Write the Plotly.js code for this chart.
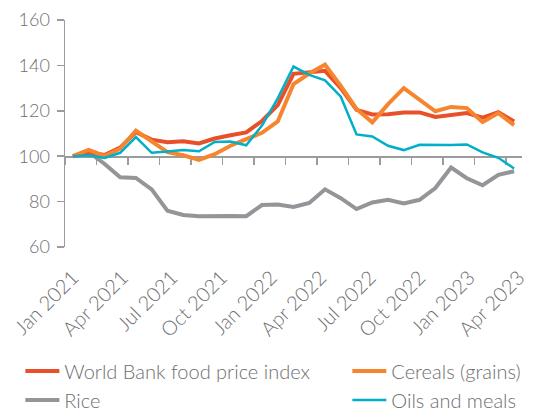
<!DOCTYPE html>
<html>
<head>
<meta charset="utf-8">
<script src="https://cdn.plot.ly/plotly-3.0.1.min.js"></script>
<style>
  html, body { margin: 0; padding: 0; background: #ffffff; }
  #chart { width: 536px; height: 411px; }
</style>
</head>
<body>
<div id="chart"></div>
<script>
// Months Jan 2021 .. May 2023 (29 monthly observations)
const months = ["2021-01","2021-02","2021-03","2021-04","2021-05","2021-06","2021-07","2021-08","2021-09","2021-10","2021-11","2021-12",
                "2022-01","2022-02","2022-03","2022-04","2022-05","2022-06","2022-07","2022-08","2022-09","2022-10","2022-11","2022-12",
                "2023-01","2023-02","2023-03","2023-04","2023-05"];

const foodIndex = [100, 101.7, 100.5, 103.8, 110.6, 107.3, 106.2, 106.6, 105.6, 107.8, 109.2, 110.5,
                   115.5, 122.5, 136.3, 137.0, 137.6, 130.0, 120.4, 118.4, 118.5, 119.3, 119.3, 117.3,
                   118.0, 119.0, 117.0, 119.4, 115.3];
const cereals   = [100, 102.8, 100.1, 103.3, 111.3, 106.5, 101.8, 100.4, 98.4, 100.9, 104.6, 107.5,
                   110.3, 115.3, 131.8, 136.4, 140.3, 131.0, 120.8, 114.9, 122.9, 130.0, 125.0, 119.8,
                   121.7, 121.2, 115.0, 119.0, 113.7];
const rice      = [100, 101.8, 96.7, 90.7, 90.4, 85.4, 76.0, 74.1, 73.5, 73.7, 73.7, 73.6,
                   78.5, 78.7, 77.6, 79.4, 85.4, 81.5, 76.7, 79.6, 80.8, 79.2, 80.8, 86.0,
                   95.0, 90.3, 87.2, 91.8, 93.4];
const oilsMeals = [100, 100.4, 99.2, 101.5, 108.4, 101.5, 102.1, 102.7, 102.2, 106.3, 106.5, 104.8,
                   113.5, 125.5, 139.5, 135.8, 133.4, 126.2, 109.6, 108.7, 104.6, 102.7, 105.0, 104.9,
                   104.9, 105.2, 101.7, 99.3, 94.6];

const tickLabels = ["Jan 2021","Apr 2021","Jul 2021","Oct 2021","Jan 2022","Apr 2022","Jul 2022","Oct 2022","Jan 2023","Apr 2023"];
const yTicks = [60, 80, 100, 120, 140, 160];

const xIdx = months.map((_, i) => i);
const labelStep = 3.144;
const labelPos = tickLabels.map((_, j) => j * labelStep);

const FONT = "Lato, 'Open Sans', sans-serif";
const TXT = "#6d6e71";
const AX = "#9a9b9d";

function line(name, y, color, width, rank, legendId) {
  return { type: "scatter", mode: "lines", name: name, x: xIdx, y: y,
           line: { color: color, width: width }, legendrank: rank,
           legend: legendId, hoverinfo: "skip" };
}

const data = [
  line("Rice", rice, "#939598", 4, 2, "legend"),
  line("World Bank food price index", foodIndex, "#e8502a", 4, 1, "legend"),
  line("Cereals (grains)", cereals, "#f5862f", 4, 1, "legend2"),
  line("Oils and meals", oilsMeals, "#00afc8", 2.5, 2, "legend2"),
  { type: "scatter", mode: "lines", x: [], y: [], xaxis: "x2", showlegend: false, hoverinfo: "skip" }
];

const legendFont = { family: FONT, size: 20, color: TXT, weight: 300 };

const layout = {
  width: 536, height: 411,
  margin: { l: 65, r: 14.3, t: 19.5, b: 163.5 },
  paper_bgcolor: "#ffffff", plot_bgcolor: "#ffffff",
  font: { family: FONT, color: TXT, size: 18, weight: 300 },
  showlegend: true,
  legend: {
    orientation: "h", xref: "container", yref: "container",
    x: 0.038, y: 0.145, xanchor: "left", yanchor: "top",
    entrywidth: 300, entrywidthmode: "pixels", itemwidth: 34,
    font: legendFont, traceorder: "normal", bgcolor: "rgba(0,0,0,0)"
  },
  legend2: {
    orientation: "h", xref: "container", yref: "container",
    x: 0.648, y: 0.145, xanchor: "left", yanchor: "top",
    entrywidth: 290, entrywidthmode: "pixels", itemwidth: 34,
    font: legendFont, traceorder: "normal", bgcolor: "rgba(0,0,0,0)"
  },
  xaxis: {
    range: [-0.5, 28.5], showgrid: false, zeroline: false, showline: false,
    ticks: "", tickmode: "array", tickvals: labelPos, ticktext: tickLabels,
    tickangle: -45, tickfont: { family: FONT, size: 20, color: TXT, weight: 300 },
    ticklabelstandoff: 14
  },
  xaxis2: {
    overlaying: "x", anchor: "free", position: 0.4, side: "bottom",
    range: [-0.5, 28.5], tickmode: "linear", tick0: -0.5, dtick: 2,
    ticks: "outside", ticklen: 7, tickwidth: 1.5, tickcolor: AX,
    showticklabels: false, showline: true, linecolor: AX, linewidth: 1.5,
    showgrid: false, zeroline: false, layer: "below traces"
  },
  yaxis: {
    range: [60, 160], tickmode: "array", tickvals: yTicks,
    showgrid: false, zeroline: false, showline: true, linecolor: AX, linewidth: 1.5,
    ticks: "outside", ticklen: 7, tickwidth: 1.5, tickcolor: AX,
    tickfont: { family: FONT, size: 18, color: TXT, weight: 300 }, ticklabelstandoff: 3
  }
};

Plotly.newPlot("chart", data, layout, { displayModeBar: false, staticPlot: true });
</script>
</body>
</html>
